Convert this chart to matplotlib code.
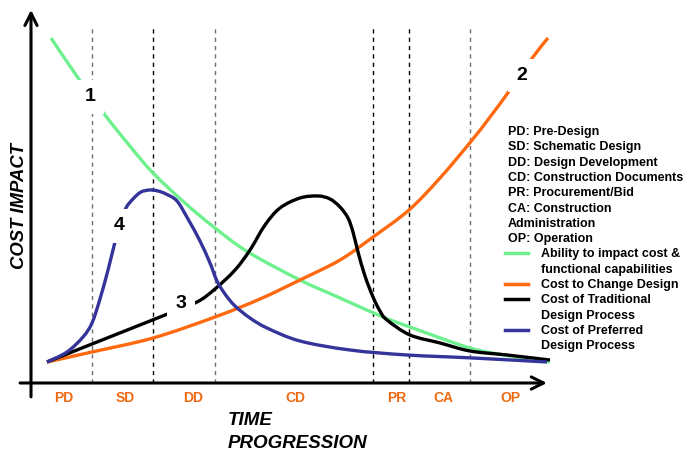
import numpy as np
import matplotlib.pyplot as plt
from matplotlib.lines import Line2D
from matplotlib.path import Path
from matplotlib.patches import PathPatch

plt.rcParams['font.family'] = ['Liberation Sans', 'DejaVu Sans']
plt.rcParams['font.weight'] = 'bold'

W, H = 687, 451

# phase boundaries along the time axis (0..100) and phase names
boundaries = [11.75, 23.5, 35.45, 65.9, 72.8, 84.6]
boundary_colors = ['#707070', 'black', '#707070', 'black', 'black', '#707070']
phases = ['PD', 'SD', 'DD', 'CD', 'PR', 'CA', 'OP']
phase_pos = [6.4, 18.1, 31.2, 50.9, 70.5, 79.4, 92.3]

# 1: ability to impact cost & functional capabilities
green_t = [3.85, 9.44, 14.26, 18.88, 23.51, 29.67, 35.45, 41.81, 51.83,
           59.54, 67.82, 73.03, 84.59, 92.29, 100.0]
green_c = [92.0, 80.6, 71.47, 63.47, 56.0, 48.0, 41.33, 34.93, 27.47,
           22.67, 17.6, 14.93, 9.33, 7.2, 5.6]

# 2: cost to change design
orange_t = [3.08, 11.75, 23.51, 35.45, 44.12, 51.83, 59.54, 65.9, 72.83, 78.81,
            85.0, 88.44, 92.29, 96.72, 99.61]
orange_c = [5.6, 8.27, 12.0, 17.6, 22.4, 27.47, 32.8, 38.93, 46.13, 54.67,
            64.8, 70.93, 78.13, 86.93, 92.0]

# 3: cost of traditional design process
black_t = [3.08, 11.75, 25.82, 31.98, 35.45, 39.31, 42.2, 45.09, 47.98, 51.83,
           55.3, 57.61, 59.54, 61.08, 62.04, 63.01, 64.35, 65.9, 67.24, 68.59,
           73.03, 78.81, 84.59, 91.71, 100.0]
black_c = [5.6, 10.4, 18.13, 21.6, 25.07, 30.13, 35.47, 42.13, 46.67, 49.33,
           49.87, 49.07, 46.93, 44.0, 40.27, 34.93, 28.53, 22.93, 19.2, 16.8,
           12.8, 10.67, 8.53, 7.47, 6.13]

# 4: cost of preferred design process
blue_t = [3.08, 6.94, 10.02, 11.75, 13.29, 14.84, 16.18, 17.15, 18.3, 19.65,
          21.19, 22.93, 24.47, 26.01, 28.13, 30.25, 32.56, 34.49, 35.84, 37.38,
          39.31, 42.2, 45.47, 51.83, 61.46, 72.45, 85.16, 99.42]
blue_c = [5.6, 8.27, 12.27, 16.0, 22.4, 30.13, 37.6, 42.4, 46.67, 49.07,
          50.93, 51.47, 51.2, 50.4, 48.53, 43.73, 37.87, 32.0, 27.2, 23.73,
          20.53, 17.33, 14.67, 11.2, 8.8, 7.47, 6.67, 5.6]

series = [
    (green_t, green_c, '#6EF08E', '1', (11.37, 76.3), ['Ability to impact cost &', 'functional capabilities']),
    (orange_t, orange_c, '#FF6A10', '2', (94.6, 82.0), ['Cost to Change Design']),
    (black_t, black_c, 'black', '3', (28.9, 21.1), ['Cost of Traditional', 'Design Process']),
    (blue_t, blue_c, '#34349A', '4', (16.96, 41.9), ['Cost of Preferred', 'Design Process']),
]

definitions = ['PD: Pre-Design', 'SD: Schematic Design', 'DD: Design Development',
               'CD: Construction Documents', 'PR: Procurement/Bid',
               'CA: Construction', 'Administration', 'OP: Operation']

fig = plt.figure(figsize=(W / 100, H / 100), dpi=100)
ax = fig.add_axes([0, 0, 1, 1])
# time 0..100 spans x pixels 31..550, cost 0..100 spans y pixels 383..8
ax.set_xlim(-31 / 5.19, (W - 31) / 5.19)
ax.set_ylim((383 - H) / 3.75, 383 / 3.75)
ax.axis('off')


def fx(x, y):
    return x / W, 1 - y / H


def smooth_path(t, c):
    # catmull-rom through the read points, drawn as cubic bezier segments
    p = np.column_stack([t, c])
    verts = [p[0]]
    codes = [Path.MOVETO]
    for i in range(len(p) - 1):
        p0 = p[i - 1] if i > 0 else p[i]
        p3 = p[i + 2] if i + 2 < len(p) else p[i + 1]
        c1 = p[i] + (p[i + 1] - p0) / 6
        c2 = p[i + 1] - (p3 - p[i]) / 6
        verts += [c1, c2, p[i + 1]]
        codes += [Path.CURVE4] * 3
    return Path(verts, codes)


# phase separators
for b, col in zip(boundaries, boundary_colors):
    ax.plot([b, b], [0, 94.9], color=col, lw=1, ls=(0, (3, 3)), zorder=1)

# curves
for t, c, col, num, pos, lab in series:
    ax.add_patch(PathPatch(smooth_path(t, c), fc='none', ec=col, lw=2.4,
                           capstyle='butt', zorder=3))
    ax.text(pos[0], pos[1], num, fontsize=14, ha='center', va='center', zorder=5,
            bbox=dict(boxstyle='square,pad=0.42', fc='white', ec='none'))

# axes with arrows
ax.annotate('', xy=(0, 99.5), xytext=(0, -3.7),
            arrowprops=dict(arrowstyle='->', lw=2.2, color='black', mutation_scale=22,
                            shrinkA=0, shrinkB=0), zorder=4)
ax.annotate('', xy=(99.4, 0), xytext=(-2.1, 0),
            arrowprops=dict(arrowstyle='->', lw=2.2, color='black', mutation_scale=22,
                            shrinkA=0, shrinkB=0), zorder=4)

for p, name in zip(phase_pos, phases):
    ax.text(p, -5.07, name, color='#EE6A12', fontsize=10, ha='center', va='baseline')

fig.text(*fx(20, 206), 'COST IMPACT', rotation=90, fontsize=13.3, style='italic',
         ha='center', va='center')
fig.text(*fx(228, 425), 'TIME', fontsize=13.5, style='italic', ha='left', va='baseline')
fig.text(*fx(228, 448), 'PROGRESSION', fontsize=13.5, style='italic', ha='left', va='baseline')

# legend block
step = 15.3
y0 = 135
for i, d in enumerate(definitions):
    fig.text(*fx(508, y0 + i * step), d, fontsize=9, ha='left', va='baseline')
k = len(definitions)
for t, c, col, num, pos, lab in series:
    yb = y0 + k * step
    fig.add_artist(Line2D([505 / W, 528 / W], [1 - (yb - 4) / H] * 2, color=col, lw=2.5))
    for j, line in enumerate(lab):
        fig.text(*fx(541, yb + j * step), line, fontsize=9, ha='left', va='baseline')
    k += len(lab)

fig.savefig('out.png', dpi=100)
